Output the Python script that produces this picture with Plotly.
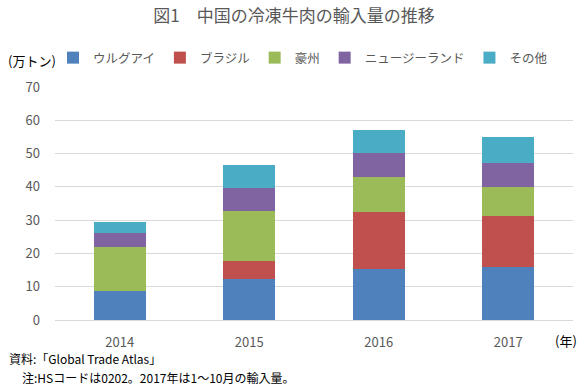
import plotly.graph_objects as go

years = ["2014", "2015", "2016", "2017"]
series_names = ["ウルグアイ", "ブラジル", "豪州", "ニュージーランド", "その他"]
uruguay = [8.7, 12.3, 15.3, 15.9]
brazil = [0.0, 5.4, 17.1, 15.3]
australia = [13.2, 15.0, 10.6, 8.8]
new_zealand = [4.2, 7.0, 7.2, 7.2]
others = [3.3, 6.9, 6.9, 7.8]
y_ticks = [0, 10, 20, 30, 40, 50, 60, 70]

colors = ["#4F81BD", "#C0504D", "#9BBB59", "#8064A2", "#4BACC6"]
values = [uruguay, brazil, australia, new_zealand, others]

FONT = "Noto Sans CJK JP"
W, H = 588, 390
L, R, T, B = 55, 15, 87, 70
PW, PH = W - L - R, H - T - B

def px(x):
    return (x - L) / PW

def py(y):
    return (H - B - y) / PH

fig = go.Figure()
for name, vals, col in zip(series_names, values, colors):
    fig.add_trace(go.Bar(x=years, y=vals, name=name, marker=dict(color=col, line=dict(width=0))))

fig.update_layout(
    width=W, height=H,
    barmode="stack", bargap=0.6,
    paper_bgcolor="white", plot_bgcolor="white",
    margin=dict(l=L, r=R, t=T, b=B, autoexpand=False),
    font=dict(family=FONT, color="#595959", size=13),
    title=dict(text="図1　中国の冷凍牛肉の輸入量の推移", x=0.5, xanchor="center",
               y=1 - 16/H, yanchor="middle",
               font=dict(family=FONT, size=17, color="#595959")),
    legend=dict(orientation="h", x=px(53), xanchor="left", y=py(58), yanchor="middle",
                font=dict(family=FONT, size=12.5, color="#595959"),
                itemwidth=30, traceorder="normal", bgcolor="rgba(0,0,0,0)",
                tracegroupgap=0),
    xaxis=dict(showgrid=False, showline=False, ticks="", ticklabelstandoff=13,
               tickfont=dict(size=13, color="#595959")),
    yaxis=dict(range=[0, 70], tickvals=y_ticks, showgrid=True, gridcolor="#D9D9D9", gridwidth=1,
               zeroline=True, zerolinecolor="#D9D9D9", zerolinewidth=1, showline=False,
               ticks="", ticklen=0, ticklabelstandoff=14,
               tickfont=dict(size=13, color="#595959")),
    annotations=[
        dict(text="(万トン)", xref="paper", yref="paper", x=px(6), y=py(61),
             xanchor="left", yanchor="middle", showarrow=False,
             font=dict(family=FONT, size=13, color="black")),
        dict(text="(年)", xref="paper", yref="paper", x=px(553), y=py(340),
             xanchor="left", yanchor="middle", showarrow=False,
             font=dict(family=FONT, size=13, color="black")),
        dict(text="資料:「Global Trade Atlas」", xref="paper", yref="paper", x=px(7),
             y=py(358), xanchor="left", yanchor="middle", showarrow=False,
             font=dict(family=FONT, size=12, color="black")),
        dict(text="注:HSコードは0202。2017年は1～10月の輸入量。", xref="paper", yref="paper",
             x=px(20), y=py(377), xanchor="left", yanchor="middle", showarrow=False,
             font=dict(family=FONT, size=12, color="black")),
    ],
)

fig.write_html("out.html", config={"displayModeBar": False},
               post_script="document.body.style.margin='0';document.body.style.overflow='hidden';")
